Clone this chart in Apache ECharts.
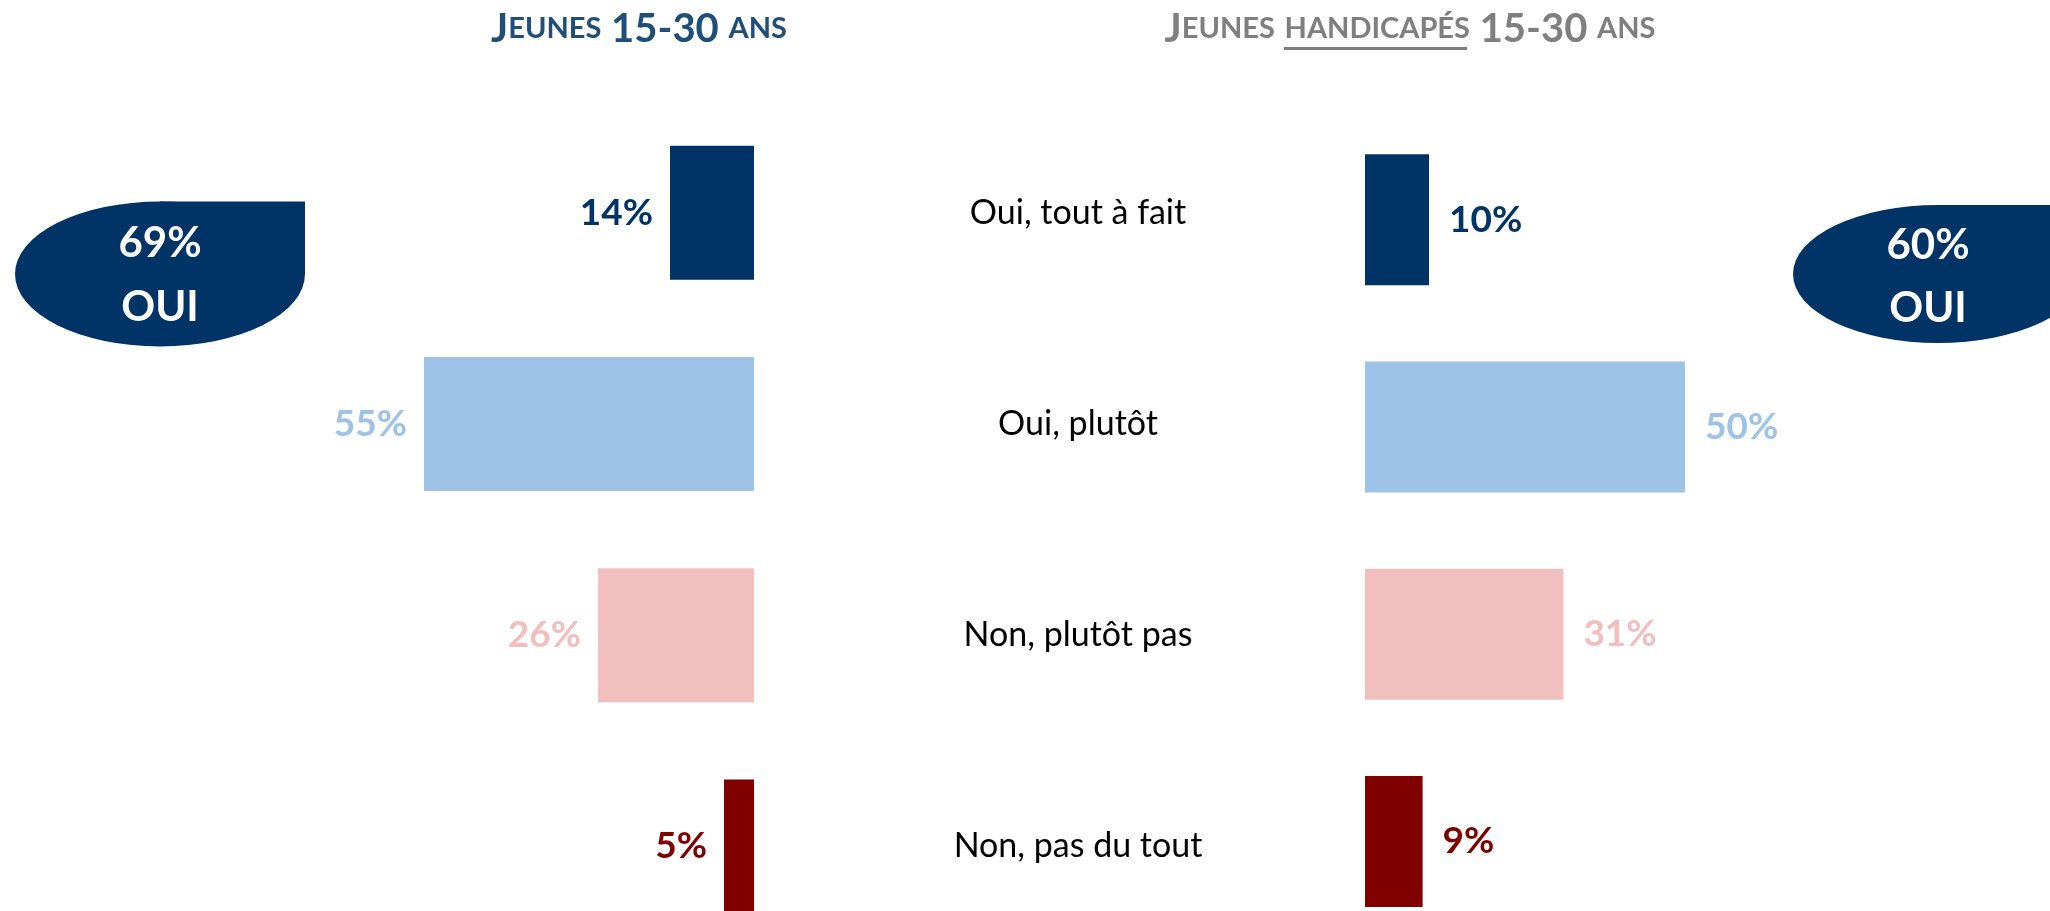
<!DOCTYPE html>
<html>
<head>
<meta charset="utf-8">
<script src="https://cdn.jsdelivr.net/npm/echarts@6/dist/echarts.min.js"></script>
<style>
  html, body { margin: 0; padding: 0; background: #fff; }
  #chart { width: 2050px; height: 911px; }
</style>
</head>
<body>
<div id="chart"></div>
<script>
// données
const categories = ['Oui, tout à fait', 'Oui, plutôt', 'Non, plutôt pas', 'Non, pas du tout'];
const jeunes = [14, 55, 26, 5];          // Jeunes 15-30 ans
const handicapes = [10, 50, 31, 9];      // Jeunes handicapés 15-30 ans
const totalOui = [69, 60];
const barColors = ['#003366', '#9DC3E6', '#F2BFBF', '#800000'];

const FONT = 'Lato';

const myChart = echarts.init(document.getElementById('chart'));

const toBarData = (values) => values.map((v, i) => ({
  value: v,
  itemStyle: { color: barColors[i] },
  label: { color: barColors[i] }
}));

const titleRich = (color) => ({
  b: { fontSize: 40, fontWeight: 'bold', color: color, fontFamily: FONT },
  s: { fontSize: 29, fontWeight: 'bold', color: color, fontFamily: FONT },
  sp: { fontSize: 40, color: color, fontFamily: FONT }
});

const option = {
  backgroundColor: '#fff',
  animation: false,
  title: [
    {
      text: '{b|J}{s|EUNES}{sp| }{b|15-30}{sp| }{s|ANS}',
      left: 634,
      top: 4,
      textAlign: 'center',
      textStyle: { rich: titleRich('#1F4E79') }
    },
    {
      text: '{b|J}{s|EUNES}{sp| }{s|HANDICAPÉS}{sp| }{b|15-30}{sp| }{s|ANS}',
      left: 1405,
      top: 4,
      textAlign: 'center',
      textStyle: { rich: titleRich('#7F7F7F') }
    }
  ],
  grid: [
    { left: 154, width: 600, top: 107, height: 845, outerBoundsMode: 'none' },
    { left: 1365, width: 640, top: 116, height: 829, outerBoundsMode: 'none' }
  ],
  xAxis: [
    { gridIndex: 0, type: 'value', min: 0, max: 100, inverse: true, show: false },
    { gridIndex: 1, type: 'value', min: 0, max: 100, show: false }
  ],
  yAxis: [
    {
      gridIndex: 0,
      type: 'category',
      data: categories,
      inverse: true,
      position: 'right',
      axisLine: { show: false },
      axisTick: { show: false },
      axisLabel: {
        margin: 324,
        align: 'center',
        color: '#000',
        fontSize: 34,
        fontFamily: FONT
      }
    },
    {
      gridIndex: 1,
      type: 'category',
      data: categories,
      inverse: true,
      show: false
    }
  ],
  series: [
    {
      name: 'Jeunes 15-30 ans',
      type: 'bar',
      xAxisIndex: 0,
      yAxisIndex: 0,
      barWidth: 134,
      data: toBarData(jeunes),
      label: {
        show: true,
        position: 'left',
        distance: 17,
        formatter: '{c}%',
        fontSize: 37,
        fontWeight: 'bold',
        fontFamily: FONT
      }
    },
    {
      name: 'Jeunes handicapés 15-30 ans',
      type: 'bar',
      xAxisIndex: 1,
      yAxisIndex: 1,
      barWidth: 131,
      data: toBarData(handicapes),
      label: {
        show: true,
        position: 'right',
        distance: 20,
        formatter: '{c}%',
        fontSize: 37,
        fontWeight: 'bold',
        fontFamily: FONT
      }
    }
  ],
  graphic: [
    // soulignement "HANDICAPÉS"
    { type: 'rect', shape: { x: 1284, y: 47, width: 183, height: 3 }, style: { fill: '#7F7F7F' } },
    // badge gauche
    { type: 'circle', x: 160, y: 274, scaleX: 2, shape: { cx: 0, cy: 0, r: 72.5 }, style: { fill: '#003366' } },
    { type: 'rect', shape: { x: 160, y: 201.5, width: 145, height: 72.5 }, style: { fill: '#003366' } },
    { type: 'text', x: 160, y: 243, style: { text: totalOui[0] + '%', fill: '#fff', font: 'bold 42px Lato', align: 'center', verticalAlign: 'middle' } },
    { type: 'text', x: 160, y: 307, style: { text: 'OUI', fill: '#fff', font: 'bold 42px Lato', align: 'center', verticalAlign: 'middle' } },
    // badge droit
    { type: 'circle', x: 1938, y: 274, scaleX: 145 / 69, shape: { cx: 0, cy: 0, r: 69 }, style: { fill: '#003366' } },
    { type: 'rect', shape: { x: 1938, y: 205, width: 145, height: 69 }, style: { fill: '#003366' } },
    { type: 'text', x: 1928, y: 245, style: { text: totalOui[1] + '%', fill: '#fff', font: 'bold 42px Lato', align: 'center', verticalAlign: 'middle' } },
    { type: 'text', x: 1928, y: 308, style: { text: 'OUI', fill: '#fff', font: 'bold 42px Lato', align: 'center', verticalAlign: 'middle' } }
  ]
};

myChart.setOption(option);
</script>
</body>
</html>
